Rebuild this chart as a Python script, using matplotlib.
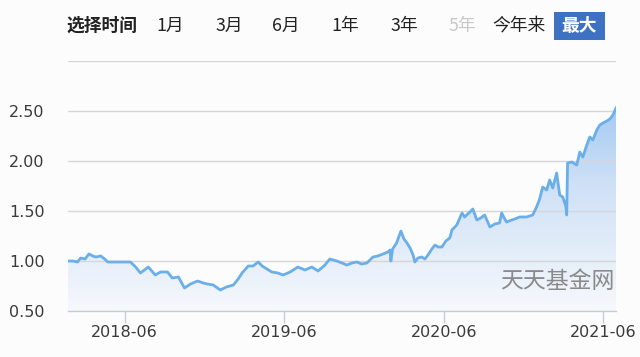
import numpy as np
import pandas as pd
import matplotlib
matplotlib.use("Agg")
import matplotlib.pyplot as plt
import matplotlib.dates as mdates
from matplotlib.colors import LinearSegmentedColormap
from matplotlib.patches import Rectangle

plt.rcParams['font.family'] = ['Noto Sans CJK SC', 'DejaVu Sans']

# --- data ---
dates = [
    "2018-01-22", "2018-02-02", "2018-02-13", "2018-02-20", "2018-03-02", "2018-03-11",
    "2018-03-20", "2018-03-27", "2018-04-07", "2018-04-16", "2018-04-23", "2018-05-11",
    "2018-05-27", "2018-06-14", "2018-06-26", "2018-07-07", "2018-07-25", "2018-08-10",
    "2018-08-22", "2018-09-07", "2018-09-18", "2018-10-02", "2018-10-16", "2018-10-30",
    "2018-11-15", "2018-11-28", "2018-12-07", "2018-12-21", "2019-01-06", "2019-01-20",
    "2019-02-05", "2019-02-16", "2019-02-25", "2019-03-11", "2019-03-22", "2019-04-03",
    "2019-04-12", "2019-04-23", "2019-05-04", "2019-05-18", "2019-05-30", "2019-06-15",
    "2019-07-03", "2019-07-19", "2019-08-04", "2019-08-18", "2019-09-03", "2019-09-14",
    "2019-09-30", "2019-10-12", "2019-10-23", "2019-11-04", "2019-11-15", "2019-11-26",
    "2019-12-08", "2019-12-22", "2020-01-02", "2020-01-14", "2020-01-25", "2020-01-30",
    "2020-02-01", "2020-02-05", "2020-02-14", "2020-02-24", "2020-03-02", "2020-03-09",
    "2020-03-16", "2020-03-23", "2020-03-27", "2020-04-03", "2020-04-12", "2020-04-19",
    "2020-04-26", "2020-05-05", "2020-05-12", "2020-05-19", "2020-05-28", "2020-06-06",
    "2020-06-15", "2020-06-20", "2020-07-01", "2020-07-13", "2020-07-19", "2020-07-31",
    "2020-08-07", "2020-08-16", "2020-08-25", "2020-09-03", "2020-09-15", "2020-09-26",
    "2020-10-07", "2020-10-12", "2020-10-19", "2020-10-23", "2020-11-04", "2020-11-11",
    "2020-11-22", "2020-12-08", "2020-12-22", "2020-12-31", "2021-01-07", "2021-01-14",
    "2021-01-23", "2021-01-30", "2021-02-06", "2021-02-15", "2021-02-22", "2021-03-01",
    "2021-03-08", "2021-03-10", "2021-03-12", "2021-03-22", "2021-04-02", "2021-04-09",
    "2021-04-16", "2021-04-25", "2021-05-02", "2021-05-09", "2021-05-18", "2021-05-25",
    "2021-06-01", "2021-06-10", "2021-06-17", "2021-06-24", "2021-07-01",
]
nav = [
    1.00, 1.00, 0.99, 1.03, 1.02, 1.07,
    1.05, 1.04, 1.05, 1.02, 0.99, 0.99,
    0.99, 0.99, 0.94, 0.88, 0.94, 0.86,
    0.89, 0.89, 0.83, 0.84, 0.73, 0.77,
    0.80, 0.78, 0.77, 0.76, 0.71, 0.74,
    0.76, 0.82, 0.88, 0.95, 0.95, 0.99,
    0.95, 0.92, 0.89, 0.88, 0.86, 0.89,
    0.94, 0.91, 0.94, 0.90, 0.96, 1.02,
    1.00, 0.98, 0.96, 0.98, 0.99, 0.97,
    0.98, 1.04, 1.05, 1.07, 1.09, 1.11,
    1.00, 1.12, 1.18, 1.30, 1.22, 1.18,
    1.13, 1.06, 0.99, 1.03, 1.04, 1.02,
    1.06, 1.12, 1.16, 1.14, 1.14, 1.20,
    1.23, 1.31, 1.36, 1.48, 1.44, 1.49,
    1.52, 1.41, 1.43, 1.46, 1.34, 1.37,
    1.38, 1.48, 1.42, 1.39, 1.41, 1.42,
    1.44, 1.44, 1.46, 1.54, 1.62, 1.74,
    1.71, 1.81, 1.73, 1.88, 1.66, 1.64,
    1.55, 1.46, 1.98, 1.99, 1.96, 2.09,
    2.04, 2.16, 2.24, 2.21, 2.31, 2.36,
    2.38, 2.40, 2.42, 2.46, 2.53,
]
y_ticks = [0.5, 1.0, 1.5, 2.0, 2.5]
x_ticks = ["2018-06-01", "2019-06-01", "2020-06-01", "2021-06-01"]
x_labels = ["2018-06", "2019-06", "2020-06", "2021-06"]
menu = ["1月", "3月", "6月", "1年", "3年", "5年", "今年来"]

x = mdates.date2num(pd.to_datetime(dates))
y = np.array(nav)

W, H = 640, 357
fig = plt.figure(figsize=(6.4, 3.57), dpi=100)
fig.patch.set_facecolor("#fcfcfd")
ax = fig.add_axes([68 / W, 1 - 311 / H, 548 / W, 250 / H])
ax.set_facecolor("#fcfcfd")

ymin, ymax = 0.5, 3.0
ax.set_xlim(x[0], x[-1])
ax.set_ylim(ymin, ymax)

# gradient fill under the line
cmap = LinearSegmentedColormap.from_list("g", ["#f6f8fc", "#cfe1f6", "#8dbdf0"])
grad = np.linspace(0, 1, 256).reshape(-1, 1)
img = ax.imshow(grad, cmap=cmap, aspect="auto", origin="lower",
                extent=[x[0], x[-1], ymin, ymax], zorder=1)
poly = ax.fill_between(x, ymin, y, color="none", lw=0)
img.set_clip_path(poly.get_paths()[0], transform=ax.transData)

ax.plot(x, y, color="#6aaeea", lw=2.0, zorder=3, solid_joinstyle="round")

# grid lines
for g in [1.0, 1.5, 2.0, 2.5, 3.0]:
    ax.axhline(g, color="#d6d6d8", lw=1.0, zorder=2)

for s in ["top", "right", "left"]:
    ax.spines[s].set_visible(False)
ax.spines["bottom"].set_color("#c4ccd4")
ax.spines["bottom"].set_linewidth(1.0)

tick_font = dict(family="DejaVu Sans", size=11.5)
ax.set_yticks(y_ticks)
ax.set_yticklabels([f"{v:.2f}" for v in y_ticks], color="#3a3a3a", fontdict=tick_font)
ax.tick_params(axis="y", length=0, pad=17)

ax.set_xticks(mdates.date2num(pd.to_datetime(x_ticks)))
ax.set_xticklabels(x_labels, color="#3a3a3a", fontdict=tick_font)
ax.tick_params(axis="x", length=8.6, width=1, color="#c4ccd4", pad=1.5)

# watermark
ax.text(0.998, 0.116, "天天基金网", transform=ax.transAxes, ha="right", va="center",
        fontsize=16.5, color="#8a8a8a", zorder=4)

# header menu
hy = 1 - 26 / H
fig.text(66 / W, hy, "选择时间", fontsize=12.8, fontweight="bold",
         color="#222222", va="center")
menu_x = [170, 229, 286, 345, 404, 462, 519]
for lbl, px in zip(menu, menu_x):
    c = "#c8c8c8" if lbl == "5年" else "#222222"
    fig.text(px / W, hy, lbl, fontsize=12.8, color=c, ha="center", va="center")
fig.patches.append(Rectangle((554 / W, 1 - 40 / H), 51 / W, 28 / H,
                             transform=fig.transFigure, facecolor="#3e71c1",
                             edgecolor="none", zorder=1))
fig.text(579.5 / W, hy, "最大", fontsize=12.8, fontweight="bold", color="white",
         ha="center", va="center", zorder=2)

fig.savefig("out.png", dpi=100, facecolor=fig.get_facecolor())
